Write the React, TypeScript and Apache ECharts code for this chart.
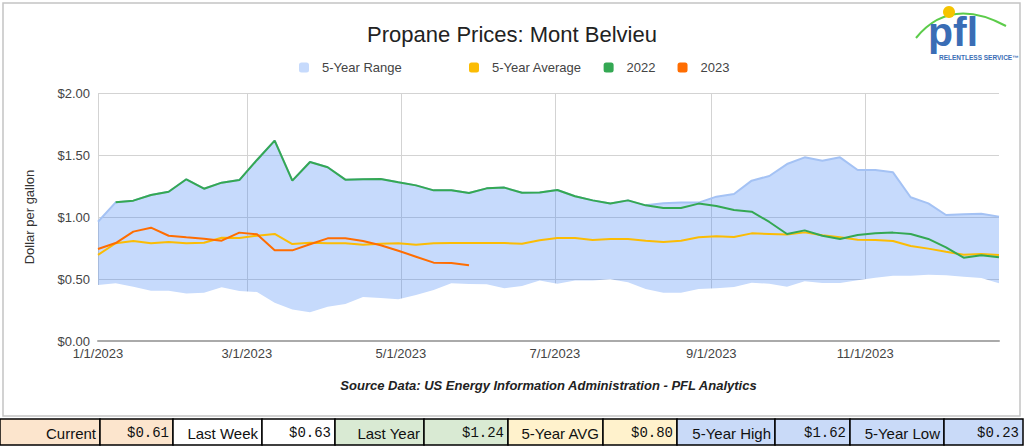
import React, { useEffect, useRef } from "react";
import * as echarts from "echarts";

// ---------- data ----------
const START_YEAR = 2023;
const LAST_DAY = 357; // days after 1/1/2023 covered by the axis
const WEEK_STEP = 7;
const tickMonths = [1, 3, 5, 7, 9, 11];

const fiveYearHigh = [
  0.962, 1.118, 1.132, 1.177, 1.204, 1.304, 1.228, 1.277, 1.298, 1.46, 1.616, 1.293, 1.444,
  1.401, 1.301, 1.304, 1.306, 1.28, 1.255, 1.215, 1.215, 1.194, 1.231, 1.237, 1.196, 1.198,
  1.218, 1.167, 1.134, 1.108, 1.134, 1.094, 1.11, 1.116, 1.116, 1.164, 1.185, 1.293, 1.331,
  1.427, 1.481, 1.454, 1.481, 1.379, 1.379, 1.36, 1.159, 1.11, 1.016, 1.022, 1.027, 1.003,
];
const fiveYearLow = [
  0.452, 0.465, 0.438, 0.406, 0.406, 0.384, 0.39, 0.433, 0.403, 0.395, 0.309, 0.255, 0.231,
  0.277, 0.298, 0.355, 0.347, 0.336, 0.371, 0.411, 0.465, 0.46, 0.457, 0.425, 0.444, 0.488,
  0.462, 0.487, 0.487, 0.497, 0.473, 0.419, 0.39, 0.39, 0.419, 0.425, 0.435, 0.47, 0.462,
  0.438, 0.481, 0.468, 0.468, 0.489, 0.511, 0.527, 0.527, 0.535, 0.53, 0.519, 0.508, 0.465,
];
const fiveYearAverage = [
  0.694, 0.788, 0.806, 0.788, 0.798, 0.788, 0.793, 0.833, 0.831, 0.849, 0.863, 0.782, 0.793,
  0.788, 0.788, 0.777, 0.785, 0.788, 0.777, 0.788, 0.79, 0.79, 0.79, 0.79, 0.785, 0.812,
  0.831, 0.831, 0.815, 0.823, 0.823, 0.809, 0.798, 0.809, 0.836, 0.844, 0.839, 0.868, 0.863,
  0.858, 0.876, 0.852, 0.836, 0.817, 0.815, 0.806, 0.766, 0.745, 0.72, 0.696, 0.702, 0.694,
];
const prices2022 = [
  null, 1.118, 1.132, 1.177, 1.204, 1.304, 1.228, 1.277, 1.298, 1.46, 1.616, 1.293, 1.444,
  1.401, 1.301, 1.304, 1.306, 1.28, 1.255, 1.215, 1.215, 1.194, 1.231, 1.237, 1.196, 1.198,
  1.218, 1.167, 1.134, 1.108, 1.134, 1.094, 1.073, 1.073, 1.108, 1.089, 1.056, 1.043, 0.96,
  0.863, 0.892, 0.849, 0.823, 0.855, 0.868, 0.874, 0.863, 0.823, 0.755, 0.672, 0.691, 0.675,
];
const prices2023 = [
  0.742, 0.79, 0.882, 0.914, 0.849, 0.836, 0.825, 0.809, 0.874, 0.86, 0.731, 0.731, 0.78,
  0.828, 0.828, 0.806, 0.772, 0.728, 0.68, 0.632, 0.629, 0.61,
];

const yTicks = { min: 0, max: 2, interval: 0.5 };

const tableLabels = ["Current", "Last Week", "Last Year", "5-Year AVG", "5-Year High", "5-Year Low"];
const tableValues = ["$0.61", "$0.63", "$1.24", "$0.80", "$1.62", "$0.23"];
const tableColors = ["#fce5cd", "#ffffff", "#d9ead3", "#fff2cc", "#c9daf8", "#c9daf8"];

// ---------- layout ----------
const FONT = '"Liberation Sans", Arial, sans-serif';
const MONO = '"Liberation Mono", "DejaVu Sans Mono", monospace';
const cellEdges = [0, 100, 173, 262, 335, 424, 508, 603, 677, 775, 850, 944, 1023];
const TABLE_TOP = 419;
const TABLE_H = 26;

function dayLabel(d: number) {
  const dt = new Date(START_YEAR, 0, 1 + d);
  return `${dt.getMonth() + 1}/${dt.getDate()}/${dt.getFullYear()}`;
}

const categories = Array.from({ length: LAST_DAY + 1 }, (_, d) => dayLabel(d));
const isTick = (_i: number, v: string) => {
  const [m, d] = v.split("/").map(Number);
  return d === 1 && tickMonths.includes(m);
};
const toPairs = (arr: (number | null)[]) => arr.map((v, i) => [i * WEEK_STEP, v]);

function buildTable() {
  const els: any[] = [];
  for (let k = 0; k < tableLabels.length; k++) {
    const pairs = [
      { text: tableLabels[k], font: `15px ${FONT}` },
      { text: tableValues[k], font: `14px ${MONO}` },
    ];
    pairs.forEach((p, j) => {
      const x0 = cellEdges[k * 2 + j];
      const x1 = cellEdges[k * 2 + j + 1];
      els.push({
        type: "rect",
        shape: { x: x0, y: TABLE_TOP, width: x1 - x0, height: TABLE_H },
        style: { fill: tableColors[k], stroke: "#000", lineWidth: 1.5 },
        z: 10,
      });
      els.push({
        type: "text",
        style: {
          text: p.text,
          x: x1 - 4,
          y: TABLE_TOP + TABLE_H / 2 + 1,
          font: p.font,
          fill: "#111",
          textAlign: "right",
          align: "right",
          textVerticalAlign: "middle",
          verticalAlign: "middle",
        },
        z: 11,
      });
    });
  }
  return els;
}

function buildLogo() {
  return [
    {
      type: "bezierCurve",
      shape: { x1: 916, y1: 38, cpx1: 950, cpy1: -4, x2: 1006, y2: 26 },
      style: { stroke: "#5ccc4a", lineWidth: 2, fill: "none" },
      z: 20,
    },
    {
      type: "circle",
      shape: { cx: 949, cy: 12, r: 6 },
      style: { fill: "#f5c400" },
      z: 21,
    },
    {
      type: "text",
      style: {
        text: "pfl",
        x: 928,
        y: 32,
        font: `bold 41px ${FONT}`,
        fill: "#3a6db5",
        textAlign: "left",
        align: "left",
        textVerticalAlign: "middle",
        verticalAlign: "middle",
      },
      z: 22,
    },
    {
      type: "text",
      style: {
        text: "RELENTLESS SERVICE\u2122",
        x: 939,
        y: 57,
        font: `bold 6.5px ${FONT}`,
        fill: "#3a6db5",
        textAlign: "left",
        align: "left",
        textVerticalAlign: "middle",
        verticalAlign: "middle",
      },
      z: 22,
    },
  ];
}

export default function App() {
  const ref = useRef<HTMLDivElement>(null);
  useEffect(() => {
    document.body.style.margin = "0";
    if (!ref.current) return;
    const chart = echarts.init(ref.current, undefined, { renderer: "svg" });
    const option: any = {
      animation: false,
      backgroundColor: "#ffffff",
      textStyle: { fontFamily: FONT },
      title: {
        text: "Propane Prices: Mont Belvieu",
        left: "center",
        top: 23,
        padding: 0,
        textStyle: { fontSize: 22, fontWeight: "normal", color: "#222", fontFamily: FONT },
      },
      legend: [
        {
          data: ["5-Year Range"],
          left: 299,
          top: 61,
          padding: 0,
          icon: "roundRect",
          itemWidth: 10,
          itemHeight: 10,
          textStyle: { fontSize: 13, color: "#444", fontFamily: FONT, padding: [0, 0, 0, 8] },
        },
        {
          data: ["5-Year Average", "2022", "2023"],
          left: 469,
          top: 61,
          padding: 0,
          icon: "roundRect",
          itemWidth: 10,
          itemHeight: 10,
          itemGap: 22,
          textStyle: { fontSize: 13, color: "#444", fontFamily: FONT, padding: [0, 0, 0, 8] },
        },
      ],
      grid: { left: 98, right: 25, top: 93, bottom: 105, containLabel: false },
      xAxis: [
        {
          type: "category",
          data: categories,
          boundaryGap: false,
          name: "Source Data: US Energy Information Administration - PFL Analytics",
          nameLocation: "middle",
          nameGap: 38,
          nameTextStyle: { fontSize: 13, fontWeight: "bold", fontStyle: "italic", color: "#222", fontFamily: FONT },
          axisLine: { show: false },
          axisTick: { show: false },
          axisLabel: { interval: isTick, fontSize: 13, color: "#444", margin: 6, fontFamily: FONT },
          splitLine: { show: true, interval: isTick, lineStyle: { color: "#d3d3d3", width: 1 } },
          z: 0,
        },
        {
          type: "category",
          data: categories,
          boundaryGap: false,
          position: "bottom",
          axisLine: { show: true, lineStyle: { color: "#aaaaaa", width: 2 } },
          axisTick: { show: false },
          axisLabel: { show: false },
          splitLine: { show: false },
          z: 10,
        },
      ],
      yAxis: {
        type: "value",
        min: yTicks.min,
        max: yTicks.max,
        interval: yTicks.interval,
        name: "Dollar per gallon",
        nameLocation: "middle",
        nameGap: 62,
        nameRotate: 90,
        nameTextStyle: { fontSize: 13, color: "#333", fontFamily: FONT, padding: [0, 0, 0, 0] },
        axisLine: { show: false },
        axisTick: { show: false },
        axisLabel: {
          fontSize: 13,
          color: "#444",
          margin: 8,
          fontFamily: FONT,
          formatter: (v: number) => `$${v.toFixed(2)}`,
        },
        splitLine: { lineStyle: { color: "#d3d3d3", width: 1 } },
      },
      series: [
        {
          name: "5-Year Range",
          type: "line",
          data: toPairs(fiveYearHigh),
          showSymbol: false,
          itemStyle: { color: "#c6dafc" },
          lineStyle: { color: "#a4c2f4", width: 2 },
          areaStyle: { color: "#4285f4", opacity: 0.3 },
          silent: true,
        },
        {
          name: "5-Year Low",
          type: "line",
          data: toPairs(fiveYearLow),
          showSymbol: false,
          itemStyle: { color: "#ffffff" },
          lineStyle: { width: 0, opacity: 0 },
          areaStyle: { color: "#ffffff", opacity: 1 },
          silent: true,
        },
        {
          name: "5-Year Average",
          type: "line",
          data: toPairs(fiveYearAverage),
          showSymbol: false,
          itemStyle: { color: "#fbbc04" },
          lineStyle: { color: "#fbbc04", width: 2 },
        },
        {
          name: "2022",
          type: "line",
          data: toPairs(prices2022),
          showSymbol: false,
          itemStyle: { color: "#34a853" },
          lineStyle: { color: "#34a853", width: 2 },
        },
        {
          name: "2023",
          type: "line",
          data: toPairs(prices2023),
          showSymbol: false,
          itemStyle: { color: "#ff6d01" },
          lineStyle: { color: "#ff6d01", width: 2 },
        },
      ],
      graphic: [
        {
          type: "rect",
          shape: { x: 3, y: 3, width: 1017, height: 413 },
          style: { fill: "none", stroke: "#c4c4c4", lineWidth: 1.5 },
          silent: true,
          z: 5,
        },
        ...buildLogo(),
        ...buildTable(),
      ],
    };
    chart.setOption(option);
    return () => chart.dispose();
  }, []);
  return (
    <div
      ref={ref}
      style={{ width: 1024, height: 446, position: "absolute", left: 0, top: 0 }}
    />
  );
}
